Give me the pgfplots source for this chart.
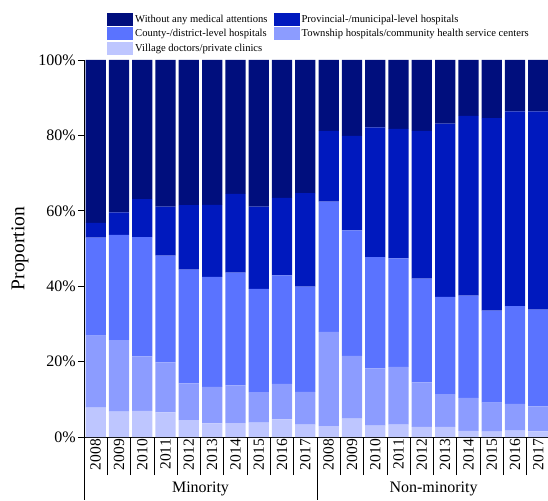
\documentclass[border=0pt]{standalone}
\usepackage{fontspec}
\setmainfont{Liberation Serif}
\usepackage{pgfplots}
\pgfplotsset{compat=1.18}
\usepackage{pgfplotstable}

\definecolor{cnone}{RGB}{0,14,125}
\definecolor{cprov}{RGB}{0,25,190}
\definecolor{ccounty}{RGB}{90,115,255}
\definecolor{ctown}{RGB}{140,156,255}
\definecolor{cvill}{RGB}{190,198,255}

% x: 0-9 Minority 2008-2017, 10-19 Non-minority 2008-2017 (percent shares)
\pgfplotstableread{
x  vill town county prov none
0  7.8 19.1 26.0  3.9 43.2
1  6.7 19.0 27.9  6.0 40.4
2  6.9 14.5 31.6 10.1 36.9
3  6.5 13.3 28.3 13.0 38.9
4  4.5  9.7 30.2 17.1 38.5
5  3.6  9.7 29.2 19.1 38.4
6  3.7 10.0 29.9 20.9 35.5
7  3.8  8.1 27.4 21.8 38.9
8  4.7  9.4 28.8 20.5 36.6
9  3.3  8.7 27.9 24.8 35.3
10 2.9 25.0 34.5 18.8 18.8
11 4.9 16.6 33.3 25.1 20.1
12 3.0 15.2 29.5 34.4 17.9
13 3.3 15.3 28.8 34.3 18.3
14 2.7 11.8 27.5 39.2 18.8
15 2.7  8.7 25.8 45.9 16.9
16 1.6  8.8 27.1 47.7 14.8
17 1.4  7.7 24.4 51.1 15.4
18 1.7  7.1 25.9 51.7 13.6
19 1.5  6.6 25.7 52.6 13.6
}\shares

\begin{document}
\begin{tikzpicture}
\begin{axis}[
    at={(0,0)}, anchor=south west,
    scale only axis,
    width=466pt, height=377pt,
    ybar stacked,
    bar width=0.87,
    xmin=-0.5, xmax=19.5,
    ymin=0, ymax=100,
    axis x line*=bottom,
    axis y line*=left,
    axis line style={black, line width=0.8pt},
    tick align=outside,
    tick style={black, line width=0.8pt},
    % cell separators below the axis
    xtick={-0.5,0.5,...,19.5},
    xticklabels={},
    major tick length=38pt,
    % year labels
    extra x ticks={0,...,19},
    extra x tick labels={2008,2009,2010,2011,2012,2013,2014,2015,2016,2017,
                 2008,2009,2010,2011,2012,2013,2014,2015,2016,2017},
    extra x tick style={major tick length=0pt,
        tick label style={rotate=90, anchor=east, font=\fontsize{15.5}{16}\selectfont, inner sep=2pt}},
    % y ticks
    ytick=\empty,
    extra y ticks={0,20,40,60,80,100},
    extra y tick labels={0\%,20\%,40\%,60\%,80\%,100\%},
    extra y tick style={major tick length=6pt,
        tick label style={font=\fontsize{16}{16}\selectfont, inner sep=2pt}},
    minor ytick={10,30,50,70,90},
    minor tick length=3pt,
    ylabel={Proportion},
    every axis y label/.style={at={([xshift=-64pt]axis description cs:0,0.5)},
        rotate=90, anchor=center, font=\fontsize{19.5}{20}\selectfont},
    clip=false,
    reverse legend,
    legend columns=2,
    legend cell align=left,
    legend style={draw=none, fill=none, inner sep=0pt,
        at={(axis description cs:0,1)}, anchor=south west,
        xshift=23pt, yshift=5pt,
        font=\fontsize{10.6}{11}\selectfont,
        row sep=1.5pt,
        /tikz/every even column/.append style={column sep=4pt}},
    legend image code/.code={\fill[#1] (0pt,-6.5pt) rectangle (26pt,6.5pt);},
]
\addplot[fill=cvill, draw=none] table[x=x, y=vill] {\shares};
\addplot[fill=ctown, draw=none] table[x=x, y=town] {\shares};
\addplot[fill=ccounty, draw=none] table[x=x, y=county] {\shares};
\addplot[fill=cprov, draw=none] table[x=x, y=prov] {\shares};
\addplot[fill=cnone, draw=none] table[x=x, y=none] {\shares};
\legend{Village doctors/private clinics,
        Township hospitals/community health service centers,
        County-/district-level hospitals,
        Provincial-/municipal-level hospitals,
        Without any medical attentions}
\draw[line width=0.8pt] (axis cs:-0.5,0) -- ([yshift=-63pt]axis cs:-0.5,0);
\draw[line width=0.8pt] (axis cs:9.5,0) -- ([yshift=-63pt]axis cs:9.5,0);
\draw[line width=0.8pt] (axis cs:19.5,0) -- ([yshift=-63pt]axis cs:19.5,0);
\node[font=\fontsize{16}{16}\selectfont] at ([yshift=-52pt]axis cs:4.5,0) {Minority};
\node[font=\fontsize{16}{16}\selectfont] at ([yshift=-52pt]axis cs:14.5,0) {Non-minority};
\end{axis}
\pgfresetboundingbox
\path[use as bounding box] (-84pt,-63pt) rectangle (464pt,437pt);
\end{tikzpicture}
\end{document}
